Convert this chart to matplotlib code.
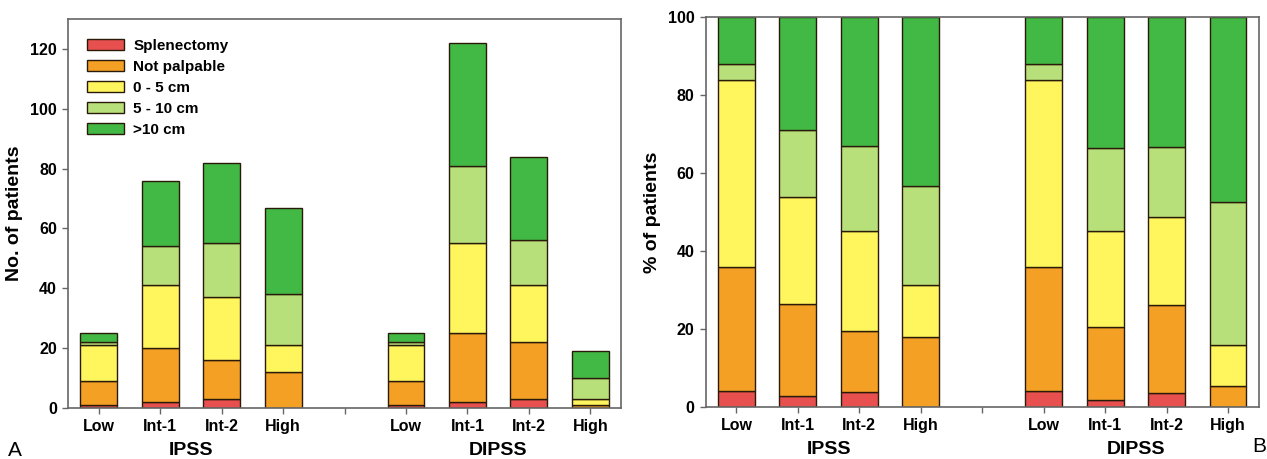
"""
Spleen size by IPSS / DIPSS risk group: counts (A) and percentages (B).
"""

import numpy as np
import matplotlib.pyplot as plt
from matplotlib.patches import Patch

plt.rcParams["font.family"] = ["Liberation Sans", "DejaVu Sans"]
plt.rcParams["font.weight"] = "bold"

groups = ["IPSS", "DIPSS"]
risk_labels = ["Low", "Int-1", "Int-2", "High"]
categories = ["Splenectomy", "Not palpable", "0 - 5 cm", "5 - 10 cm", ">10 cm"]
colors = ["#E8504F", "#F4A025", "#FFF65E", "#B8E07A", "#42B944"]

# counts per risk group (Low, Int-1, Int-2, High)
ipss_splenectomy = [1, 2, 3, 0]
ipss_not_palpable = [8, 18, 13, 12]
ipss_0_5 = [12, 21, 21, 9]
ipss_5_10 = [1, 13, 18, 17]
ipss_gt10 = [3, 22, 27, 29]

dipss_splenectomy = [1, 2, 3, 0]
dipss_not_palpable = [8, 23, 19, 1]
dipss_0_5 = [12, 30, 19, 2]
dipss_5_10 = [1, 26, 15, 7]
dipss_gt10 = [3, 41, 28, 9]

ipss = np.array([ipss_splenectomy, ipss_not_palpable, ipss_0_5, ipss_5_10, ipss_gt10], float)
dipss = np.array([dipss_splenectomy, dipss_not_palpable, dipss_0_5, dipss_5_10, dipss_gt10], float)

# positions: 0-3 IPSS, gap at 4, 5-8 DIPSS
x = np.array([0, 1, 2, 3, 5, 6, 7, 8])
counts = np.hstack([ipss, dipss])
pct = counts / counts.sum(axis=0) * 100

tick_pos = np.arange(9)
tick_labels = risk_labels + [""] + risk_labels

fig = plt.figure(figsize=(12.67, 4.59), dpi=100)
ax1 = fig.add_axes([0.0537, 0.1111, 0.4365, 0.8475])
ax2 = fig.add_axes([0.557, 0.1139, 0.4365, 0.848])

spine_color = "#666666"


def draw(ax, data, ylim, yticks, ylabel):
    bottom = np.zeros(data.shape[1])
    for vals, col, lab in zip(data, colors, categories):
        ax.bar(x, vals, width=0.6, bottom=bottom, color=col,
               edgecolor="#2a1a0a", linewidth=1.0, label=lab)
        bottom += vals
    ax.set_xlim(-0.5, 8.5)
    ax.set_ylim(*ylim)
    ax.set_yticks(yticks)
    ax.set_xticks(tick_pos)
    ax.set_xticklabels(tick_labels)
    ax.tick_params(axis="both", direction="out", length=4, width=1,
                   color=spine_color, labelsize=11.5, pad=4)
    ax.tick_params(axis="x", pad=4)
    for s in ax.spines.values():
        s.set_color(spine_color)
        s.set_linewidth(1.2)
    ax.set_ylabel(ylabel, fontsize=14, fontweight="bold", labelpad=5)
    trans = ax.get_xaxis_transform()
    ax.text(1.5, -0.11, groups[0], transform=trans, ha="center", va="center",
            fontsize=14, fontweight="bold")
    ax.text(6.5, -0.11, groups[1], transform=trans, ha="center", va="center",
            fontsize=14, fontweight="bold")


draw(ax1, counts, (0, 130), np.arange(0, 121, 20), "No. of patients")
draw(ax2, pct, (0, 100), np.arange(0, 101, 20), "% of patients")

handles = [Patch(facecolor=c, edgecolor="#2a1a0a", linewidth=1.0) for c in colors]
ax1.legend(handles, categories, loc="upper left", bbox_to_anchor=(0.01, 0.985),
           frameon=False, handlelength=2.4, handleheight=0.8,
           labelspacing=0.45, handletextpad=0.6, prop={"weight": "bold", "size": 11})

fig.text(8 / 1267, 1 - 450 / 459, "A", fontsize=15, fontweight="normal",
         ha="left", va="center")
fig.text(1252 / 1267, 1 - 447 / 459, "B", fontsize=15, fontweight="normal",
         ha="left", va="center")

fig.savefig("out.png", dpi=100)
